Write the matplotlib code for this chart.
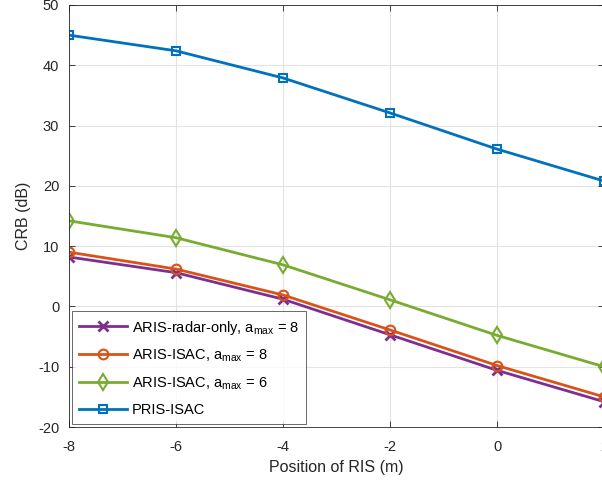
import numpy as np
import matplotlib.pyplot as plt

plt.rcParams['font.family'] = ['Liberation Sans', 'DejaVu Sans']
plt.rcParams['axes.unicode_minus'] = False
plt.rcParams['mathtext.fontset'] = 'custom'
plt.rcParams['mathtext.rm'] = 'Liberation Sans'

# RIS position (m)
ris_pos = [-8, -6, -4, -2, 0, 2]

# CRB (dB) for each scheme
crb_radar_only_a8 = [8.2, 5.6, 1.2, -4.7, -10.6, -15.8]
crb_isac_a8 = [9.0, 6.2, 1.9, -3.9, -9.8, -15.0]
crb_isac_a6 = [14.2, 11.4, 6.9, 1.1, -4.8, -10.0]
crb_pris = [45.0, 42.4, 37.9, 32.1, 26.1, 20.8]

fig = plt.figure(figsize=(6.02, 4.86), dpi=100)
# axes run slightly past the right edge of the canvas
ax = fig.add_axes([69 / 602, (486 - 427) / 486, 535 / 602, 422 / 486])

ax.plot(ris_pos, crb_radar_only_a8, color=(0.494, 0.184, 0.556), lw=2,
        marker='x', ms=7, mew=2, label=r'ARIS-radar-only, a$_{\mathrm{max}}$ = 8')
ax.plot(ris_pos, crb_isac_a8, color=(0.85, 0.325, 0.098), lw=2,
        marker='o', ms=7, mew=1.5, mfc='none', label=r'ARIS-ISAC, a$_{\mathrm{max}}$ = 8')
ax.plot(ris_pos, crb_isac_a6, color=(0.466, 0.674, 0.188), lw=2,
        marker='d', ms=8, mew=1.5, mfc='none', label=r'ARIS-ISAC, a$_{\mathrm{max}}$ = 6')
ax.plot(ris_pos, crb_pris, color=(0, 0.447, 0.741), lw=2,
        marker='s', ms=6, mew=1.5, mfc='none', label='PRIS-ISAC')

ax.set_xlim(-8, 2)
ax.set_ylim(-20, 50)
ax.set_xticks([-8, -6, -4, -2, 0, 2])
ax.set_yticks(range(-20, 51, 10))
ax.grid(True, color='#e3e3e3', lw=0.8)
ax.set_axisbelow(True)
ax.tick_params(direction='in', top=True, right=True, labelsize=10.5,
               colors='#262626', length=4, width=0.6)
ax.tick_params(axis='x', pad=9)
ax.tick_params(axis='y', pad=7)
for s in ax.spines.values():
    s.set_color('#262626')
    s.set_linewidth(0.6)

ax.set_xlabel('Position of RIS (m)', fontsize=11.5, color='#262626', labelpad=5)
ax.set_ylabel('CRB (dB)', fontsize=11.5, color='#262626', labelpad=5)

leg = ax.legend(loc='lower left', fontsize=10.5, frameon=True, fancybox=False,
                edgecolor='#262626', borderaxespad=0.2, handlelength=3.3,
                handletextpad=0.3, labelspacing=0.75, borderpad=0.5)
leg.get_frame().set_linewidth(0.6)

fig.savefig('out.png', dpi=100)
